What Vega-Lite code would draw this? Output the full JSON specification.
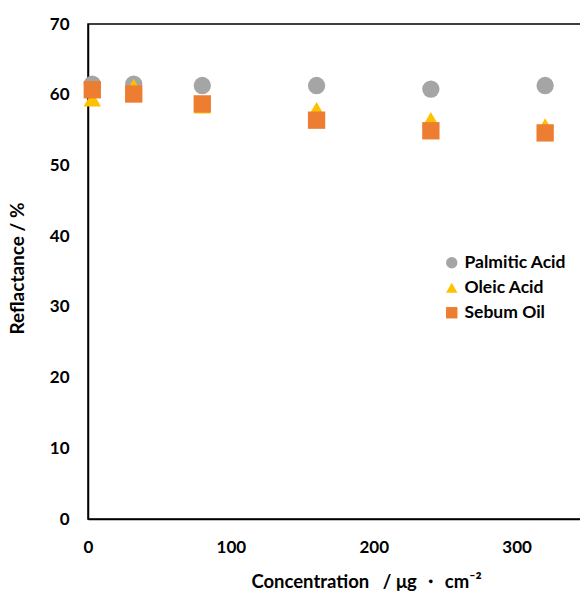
{
  "$schema": "https://vega.github.io/schema/vega-lite/v6.json",
  "width": 500,
  "height": 495,
  "autosize": "none",
  "padding": {"left": 88, "top": 24, "right": 10, "bottom": 73},
  "background": "white",
  "config": {
    "view": {"stroke": "#000000", "strokeWidth": 1.5},
    "font": "Lato"
  },
  "data": {
    "values": [
      {"conc": 3, "series": "Palmitic Acid", "refl": 61.5},
      {"conc": 32, "series": "Palmitic Acid", "refl": 61.5},
      {"conc": 80, "series": "Palmitic Acid", "refl": 61.3},
      {"conc": 160, "series": "Palmitic Acid", "refl": 61.3},
      {"conc": 240, "series": "Palmitic Acid", "refl": 60.8},
      {"conc": 320, "series": "Palmitic Acid", "refl": 61.3},
      {"conc": 3, "series": "Oleic Acid", "refl": 59.4},
      {"conc": 32, "series": "Oleic Acid", "refl": 61.2},
      {"conc": 80, "series": "Oleic Acid", "refl": 58.4},
      {"conc": 160, "series": "Oleic Acid", "refl": 57.9},
      {"conc": 240, "series": "Oleic Acid", "refl": 56.5},
      {"conc": 320, "series": "Oleic Acid", "refl": 55.6},
      {"conc": 3, "series": "Sebum Oil", "refl": 60.7},
      {"conc": 32, "series": "Sebum Oil", "refl": 60.1},
      {"conc": 80, "series": "Sebum Oil", "refl": 58.7},
      {"conc": 160, "series": "Sebum Oil", "refl": 56.4},
      {"conc": 240, "series": "Sebum Oil", "refl": 54.9},
      {"conc": 320, "series": "Sebum Oil", "refl": 54.6}
    ]
  },
  "mark": {"type": "point", "filled": true, "opacity": 1, "strokeWidth": 0, "size": 300},
  "encoding": {
    "x": {
      "field": "conc",
      "type": "quantitative",
      "scale": {"domain": [0, 350], "nice": false},
      "axis": {
        "values": [0, 100, 200, 300],
        "grid": false,
        "ticks": false,
        "domainColor": "#000000",
        "domainWidth": 1.5,
        "labelFontSize": 17,
        "labelFontWeight": "bold",
        "labelColor": "#000000",
        "labelPadding": 20,
        "labelFlush": false,
        "title": "Concentration\u00a0\u00a0\u00a0/ μg ・ cm⁻²",
        "titleFontSize": 18.5,
        "titleFontWeight": "bold",
        "titleColor": "#000000",
        "titleX": 278,
        "titleY": 68,
        "titleAnchor": "middle",
        "titleAlign": "center",
        "titleBaseline": "alphabetic"
      }
    },
    "y": {
      "field": "refl",
      "type": "quantitative",
      "scale": {"domain": [0, 70], "nice": false},
      "axis": {
        "values": [0, 10, 20, 30, 40, 50, 60, 70],
        "grid": false,
        "ticks": false,
        "domainColor": "#000000",
        "domainWidth": 1.5,
        "labelFontSize": 17,
        "labelFontWeight": "bold",
        "labelColor": "#000000",
        "labelPadding": 19,
        "labelFlush": false,
        "title": "Reflactance / %",
        "titleFontSize": 19,
        "titleFontWeight": "bold",
        "titleColor": "#000000",
        "titleX": -61,
        "titleY": 244,
        "titleAnchor": "middle",
        "titleAlign": "center"
      }
    },
    "shape": {
      "field": "series",
      "type": "nominal",
      "scale": {
        "domain": ["Palmitic Acid", "Oleic Acid", "Sebum Oil"],
        "range": ["circle", "triangle-up", "square"]
      },
      "legend": {
        "title": null,
        "orient": "none",
        "legendX": 355,
        "legendY": 230,
        "symbolSize": 130,
        "symbolStrokeWidth": 0,
        "labelFontSize": 17.5,
        "labelFontWeight": "bold",
        "labelColor": "#000000",
        "labelOffset": 4,
        "rowPadding": 6
      }
    },
    "color": {
      "field": "series",
      "type": "nominal",
      "scale": {
        "domain": ["Palmitic Acid", "Oleic Acid", "Sebum Oil"],
        "range": ["#A5A5A5", "#FFC000", "#ED7D31"]
      }
    }
  }
}
